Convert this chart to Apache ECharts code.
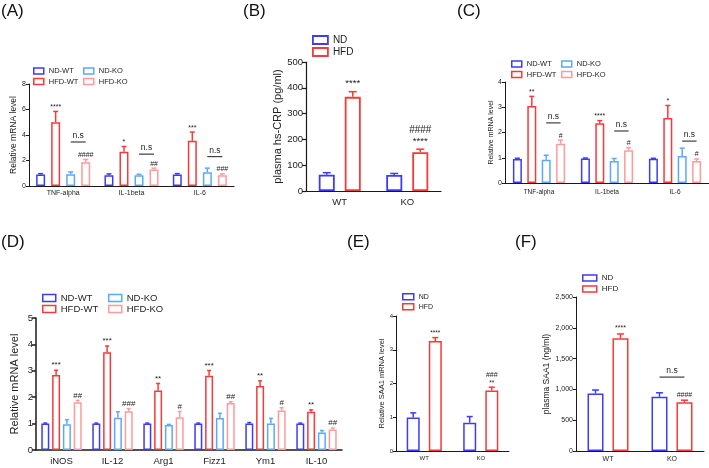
<!DOCTYPE html>
<html><head><meta charset="utf-8">
<script src="https://cdn.jsdelivr.net/npm/echarts@6/dist/echarts.min.js"></script>
<style>html,body{margin:0;padding:0;background:#fff}#c{width:709px;height:468px}</style>
</head><body><div id="c"></div>
<script>
// ---------- DATA ----------
// Panel A
const catA = ['TNF-alpha', 'IL-1beta', 'IL-6'];
const aNDWT = [0.9, 0.85, 0.9];      const aNDWTerr = [0.07, 0.1, 0.07];
const aHFDWT = [5.0, 2.68, 3.55];    const aHFDWTerr = [0.85, 0.42, 0.68];
const aNDKO = [0.92, 0.85, 1.08];    const aNDKOerr = [0.18, 0.07, 0.32];
const aHFDKO = [1.86, 1.3, 0.85];    const aHFDKOerr = [0.22, 0.1, 0.1];
const aSigHFDWT = ['****', '*', '***'];
const aSigHFDKO = ['####', '##', '###'];
const aNs = [3.45, 2.5, 2.3];
// Panel B
const catB = ['WT', 'KO'];
const bND = [63, 62];   const bNDerr = [8, 6];
const bHFD = [365, 150]; const bHFDerr = [20, 12];
const bSig1 = ['****', '****'];
const bSig2 = ['', '####'];
// Panel C
const catC = ['TNF-alpha', 'IL-1beta', 'IL-6'];
const cNDWT = [0.95, 0.97, 0.96];   const cNDWTerr = [0.03, 0.02, 0.02];
const cHFDWT = [3.05, 2.37, 2.57];  const cHFDWTerr = [0.38, 0.1, 0.5];
const cNDKO = [0.92, 0.87, 1.07];   const cNDKOerr = [0.18, 0.1, 0.31];
const cHFDKO = [1.55, 1.3, 0.87];   const cHFDKOerr = [0.15, 0.1, 0.08];
const cSigHFDWT = ['**', '****', '*'];
const cSigHFDKO = ['#', '#', '#'];
const cNs = [2.38, 2.06, 1.66];
// Panel D
const catD = ['iNOS', 'IL-12', 'Arg1', 'Fizz1', 'Ym1', 'IL-10'];
const dNDWT = [1.0, 1.0, 1.0, 1.0, 1.0, 1.0];        const dNDWTerr = [0.02, 0.02, 0.02, 0.02, 0.04, 0.02];
const dHFDWT = [2.84, 3.7, 2.25, 2.81, 2.42, 1.45];   const dHFDWTerr = [0.18, 0.24, 0.27, 0.2, 0.2, 0.07];
const dNDKO = [0.98, 1.22, 0.95, 1.21, 1.0, 0.66];   const dNDKOerr = [0.17, 0.23, 0.02, 0.18, 0.2, 0.08];
const dHFDKO = [1.81, 1.47, 1.24, 1.78, 1.5, 0.78];  const dHFDKOerr = [0.07, 0.1, 0.22, 0.05, 0.1, 0.05];
const dSigHFDWT = ['***', '***', '**', '***', '**', '**'];
const dSigHFDKO = ['##', '###', '#', '##', '#', '##'];
// Panel E
const catE = ['WT', 'KO'];
const eND = [0.99, 0.84];  const eNDerr = [0.14, 0.18];
const eHFD = [3.26, 1.79]; const eHFDerr = [0.1, 0.1];
const eSig1 = ['****', '**'];
const eSig2 = ['', '###'];
// Panel F
const catF = ['WT', 'KO'];
const fND = [935, 880];   const fNDerr = [55, 65];
const fHFD = [1830, 790]; const fHFDerr = [70, 35];
const fSig1 = ['****', '####'];
const fNs = [null, 1200];

// ---------- STYLE ----------
const FONT = "'Liberation Sans', Arial, Helvetica, sans-serif";
const C_NDWT = '#3c3cf6', C_HFDWT = '#f63a3a', C_NDKO = '#5aa9ff', C_HFDKO = '#ff9a9a';
const TXT = '#222', AX = '#1a1a1a';

const grids = [], xAxes = [], yAxes = [], series = [], legends = [], graphics = [];

function panel(p) {
  const gi = grids.length;
  grids.push({ left: p.left, top: p.top, width: p.width, height: p.height });
  const ls = { color: AX, width: p.alw };
  xAxes.push({
    type: 'category', gridIndex: gi, data: p.cats,
    axisTick: { show: false }, axisLine: { lineStyle: ls },
    axisLabel: { fontSize: p.xfs, color: TXT, margin: p.xm, fontFamily: FONT }
  });
  yAxes.push({
    type: 'value', gridIndex: gi, min: 0, max: p.ymax, interval: p.yint,
    splitLine: { show: false },
    axisLine: { show: true, lineStyle: ls },
    axisTick: { show: true, length: p.tl, lineStyle: ls },
    axisLabel: { fontSize: p.yfs, color: TXT, margin: p.ym, fontFamily: FONT },
    name: p.yname, nameLocation: 'middle', nameGap: p.ng,
    nameTextStyle: { fontSize: p.nfs, color: TXT, fontFamily: FONT }
  });
  const n = p.groups.length;
  const step = p.bw * (1 + p.bgf);
  p.groups.forEach((g) => {
    series.push({
      type: 'bar', name: g.name, xAxisIndex: gi, yAxisIndex: gi, data: g.vals,
      barWidth: p.bw, barGap: (p.bgf * 100) + '%', silent: true,
      itemStyle: { color: '#fff', borderColor: g.color, borderWidth: p.blw }
    });
  });
  p.groups.forEach((g, k) => {
    const off = (k - (n - 1) / 2) * step;
    series.push({
      type: 'custom', xAxisIndex: gi, yAxisIndex: gi, silent: true, z: 5,
      data: g.vals.map((v, i) => [i, v, g.errs[i]]),
      renderItem: function (params, api) {
        const i = api.value(0), v = api.value(1), e = api.value(2);
        const b = api.coord([i, v]), t = api.coord([i, v + e]);
        const x = b[0] + off;
        const ch = [
          { type: 'line', shape: { x1: x, y1: b[1], x2: x, y2: t[1] }, style: { stroke: g.color, lineWidth: p.elw } },
          { type: 'line', shape: { x1: x - p.cap / 2, y1: t[1], x2: x + p.cap / 2, y2: t[1] }, style: { stroke: g.color, lineWidth: p.elw } }
        ];
        const s1 = g.sig1 ? g.sig1[i] : '';
        const s2 = g.sig2 ? g.sig2[i] : '';
        if (s1) ch.push({ type: 'text', style: { text: s1, x: x, y: t[1] - p.sg1, align: 'center', verticalAlign: 'bottom', textAlign: 'center', textVerticalAlign: 'bottom', fontSize: p.sfs, fontFamily: FONT, fill: TXT } });
        if (s2) ch.push({ type: 'text', style: { text: s2, x: x, y: t[1] - p.sg1 - p.sg2, align: 'center', verticalAlign: 'bottom', textAlign: 'center', textVerticalAlign: 'bottom', fontSize: p.hfs, fontFamily: FONT, fill: TXT } });
        return { type: 'group', children: ch };
      }
    });
  });
  if (p.ns) {
    const o1 = (p.nsA - (n - 1) / 2) * step, o2 = (p.nsB - (n - 1) / 2) * step;
    series.push({
      type: 'custom', xAxisIndex: gi, yAxisIndex: gi, silent: true, z: 6,
      data: p.ns.map((v, i) => [i, v == null ? '-' : v]),
      renderItem: function (params, api) {
        const v = api.value(1);
        if (isNaN(v)) return null;
        const c = api.coord([api.value(0), v]);
        return { type: 'group', children: [
          { type: 'line', shape: { x1: c[0] + o1, y1: c[1], x2: c[0] + o2, y2: c[1] }, style: { stroke: AX, lineWidth: 1 } },
          { type: 'text', style: { text: 'n.s', x: c[0] + (o1 + o2) / 2, y: c[1] - 2, align: 'center', verticalAlign: 'bottom', textAlign: 'center', textVerticalAlign: 'bottom', fontSize: p.nsfs, fontFamily: FONT, fill: TXT } }
        ] };
      }
    });
  }
  p.legends.forEach((L) => {
    legends.push({
      left: L.left, top: L.top, orient: 'vertical', padding: 0,
      itemWidth: L.iw, itemHeight: L.ih, itemGap: L.gap, selectedMode: false,
      icon: 'rect',
      textStyle: { fontSize: L.fs, color: TXT, fontFamily: FONT },
      data: L.items.map((it) => ({ name: it[0], itemStyle: { color: '#fff', borderColor: it[1], borderWidth: L.blw } }))
    });
  });
  graphics.push({ type: 'text', left: p.lab[1], top: p.lab[2], style: { text: p.lab[0], fontSize: 17, fontFamily: FONT, fill: '#111' } });
}

// Panel A
panel({
  left: 29, top: 84, width: 205, height: 102, cats: catA, ymax: 8, yint: 2,
  alw: 1, tl: 3, xfs: 7, xm: 4, yfs: 7, ym: 3, yname: 'Relative mRNA level', ng: 11, nfs: 8.5,
  bw: 9, bgf: 0.67, blw: 1.5, elw: 1.5, cap: 5, sfs: 7, hfs: 6.5, sg1: 1, sg2: 8, nsfs: 8.5,
  groups: [
    { name: 'ND-WT', color: C_NDWT, vals: aNDWT, errs: aNDWTerr },
    { name: 'HFD-WT', color: C_HFDWT, vals: aHFDWT, errs: aHFDWTerr, sig1: aSigHFDWT },
    { name: 'ND-KO', color: C_NDKO, vals: aNDKO, errs: aNDKOerr },
    { name: 'HFD-KO', color: C_HFDKO, vals: aHFDKO, errs: aHFDKOerr, sig1: aSigHFDKO }
  ],
  ns: aNs, nsA: 2, nsB: 3,
  legends: [
    { left: 33, top: 67, iw: 10, ih: 6, gap: 2.5, fs: 7.5, blw: 1.5, items: [['ND-WT', C_NDWT], ['HFD-WT', C_HFDWT]] },
    { left: 83, top: 67, iw: 10, ih: 6, gap: 2.5, fs: 7.5, blw: 1.5, items: [['ND-KO', C_NDKO], ['HFD-KO', C_HFDKO]] }
  ],
  lab: ['(A)', 1, 3]
});
// Panel B
panel({
  left: 306, top: 62, width: 135, height: 129, cats: catB, ymax: 500, yint: 100,
  alw: 1.2, tl: 4, xfs: 9.5, xm: 6, yfs: 9.5, ym: 3, yname: 'plasma hs-CRP (pg/ml)', ng: 22, nfs: 11,
  bw: 16, bgf: 0.625, blw: 1.8, elw: 1.5, cap: 8, sfs: 9.5, hfs: 10, sg1: 3, sg2: 11, nsfs: 9,
  groups: [
    { name: 'ND', color: C_NDWT, vals: bND, errs: bNDerr },
    { name: 'HFD', color: C_HFDWT, vals: bHFD, errs: bHFDerr, sig1: bSig1, sig2: bSig2 }
  ],
  legends: [
    { left: 312, top: 35, iw: 15, ih: 8, gap: 2, fs: 10, blw: 1.8, items: [['ND', C_NDWT], ['HFD', C_HFDWT]] }
  ],
  lab: ['(B)', 243, 3]
});
// Panel C
panel({
  left: 505, top: 82, width: 204, height: 101, cats: catC, ymax: 4, yint: 1,
  alw: 1, tl: 3, xfs: 6.5, xm: 6, yfs: 7, ym: 3, yname: 'Relative mRNA level', ng: 10, nfs: 7,
  bw: 9, bgf: 0.6, blw: 1.5, elw: 1.5, cap: 5, sfs: 7, hfs: 8, sg1: 1, sg2: 8, nsfs: 8.5,
  groups: [
    { name: 'ND-WT', color: C_NDWT, vals: cNDWT, errs: cNDWTerr },
    { name: 'HFD-WT', color: C_HFDWT, vals: cHFDWT, errs: cHFDWTerr, sig1: cSigHFDWT },
    { name: 'ND-KO', color: C_NDKO, vals: cNDKO, errs: cNDKOerr },
    { name: 'HFD-KO', color: C_HFDKO, vals: cHFDKO, errs: cHFDKOerr, sig1: cSigHFDKO }
  ],
  ns: cNs, nsA: 2, nsB: 3,
  legends: [
    { left: 511, top: 60, iw: 10, ih: 6, gap: 2.5, fs: 7.5, blw: 1.5, items: [['ND-WT', C_NDWT], ['HFD-WT', C_HFDWT]] },
    { left: 561, top: 60, iw: 10, ih: 6, gap: 2.5, fs: 7.5, blw: 1.5, items: [['ND-KO', C_NDKO], ['HFD-KO', C_HFDKO]] }
  ],
  lab: ['(C)', 457, 3]
});
// Panel D
panel({
  left: 36, top: 318, width: 306, height: 132, cats: catD, ymax: 5, yint: 1,
  alw: 1.5, tl: 4, xfs: 9.5, xm: 6, yfs: 9.5, ym: 3, yname: 'Relative mRNA level', ng: 16, nfs: 11,
  bw: 8, bgf: 0.35, blw: 1.5, elw: 1.5, cap: 4, sfs: 8, hfs: 8.5, sg1: 1, sg2: 9, nsfs: 9,
  groups: [
    { name: 'ND-WT', color: C_NDWT, vals: dNDWT, errs: dNDWTerr },
    { name: 'HFD-WT', color: C_HFDWT, vals: dHFDWT, errs: dHFDWTerr, sig1: dSigHFDWT },
    { name: 'ND-KO', color: C_NDKO, vals: dNDKO, errs: dNDKOerr },
    { name: 'HFD-KO', color: C_HFDKO, vals: dHFDKO, errs: dHFDKOerr, sig1: dSigHFDKO }
  ],
  legends: [
    { left: 42, top: 293, iw: 13, ih: 7, gap: 1, fs: 9.5, blw: 1.5, items: [['ND-WT', C_NDWT], ['HFD-WT', C_HFDWT]] },
    { left: 108, top: 293, iw: 13, ih: 7, gap: 1, fs: 9.5, blw: 1.5, items: [['ND-KO', C_NDKO], ['HFD-KO', C_HFDKO]] }
  ],
  lab: ['(D)', 1, 234]
});
// Panel E
panel({
  left: 396, top: 316, width: 113, height: 135, cats: catE, ymax: 4, yint: 1,
  alw: 1, tl: 3, xfs: 6, xm: 4, yfs: 6, ym: 3, yname: 'Relative SAA1 mRNA level', ng: 9, nfs: 7.5,
  bw: 13, bgf: 0.7, blw: 1.5, elw: 1.5, cap: 6, sfs: 6.5, hfs: 7, sg1: 1, sg2: 8, nsfs: 8,
  groups: [
    { name: 'ND', color: C_NDWT, vals: eND, errs: eNDerr },
    { name: 'HFD', color: C_HFDWT, vals: eHFD, errs: eHFDerr, sig1: eSig1, sig2: eSig2 }
  ],
  legends: [
    { left: 402, top: 293, iw: 11, ih: 6, gap: 2.5, fs: 7, blw: 1.5, items: [['ND', C_NDWT], ['HFD', C_HFDWT]] }
  ],
  lab: ['(E)', 347, 234]
});
// Panel F
panel({
  left: 576, top: 297, width: 128, height: 154, cats: catF, ymax: 2500, yint: 500,
  alw: 1, tl: 3, xfs: 7, xm: 5, yfs: 7, ym: 3, yname: 'plasma SAA1 (ng/ml)', ng: 22, nfs: 8.5,
  bw: 16, bgf: 0.56, blw: 1.5, elw: 1.5, cap: 7, sfs: 7, hfs: 8, sg1: 2, sg2: 9, nsfs: 8.5,
  groups: [
    { name: 'ND', color: C_NDWT, vals: fND, errs: fNDerr },
    { name: 'HFD', color: C_HFDWT, vals: fHFD, errs: fHFDerr, sig1: fSig1 }
  ],
  ns: fNs, nsA: 0, nsB: 1,
  legends: [
    { left: 582, top: 274, iw: 14, ih: 6, gap: 3, fs: 8, blw: 1.5, items: [['ND', C_NDWT], ['HFD', C_HFDWT]] }
  ],
  lab: ['(F)', 515, 234]
});

const chart = echarts.init(document.getElementById('c'), null, { renderer: 'canvas' });
chart.setOption({
  backgroundColor: '#fff', animation: false,
  textStyle: { fontFamily: FONT },
  grid: grids, xAxis: xAxes, yAxis: yAxes, series: series, legend: legends, graphic: graphics
});
</script></body></html>
